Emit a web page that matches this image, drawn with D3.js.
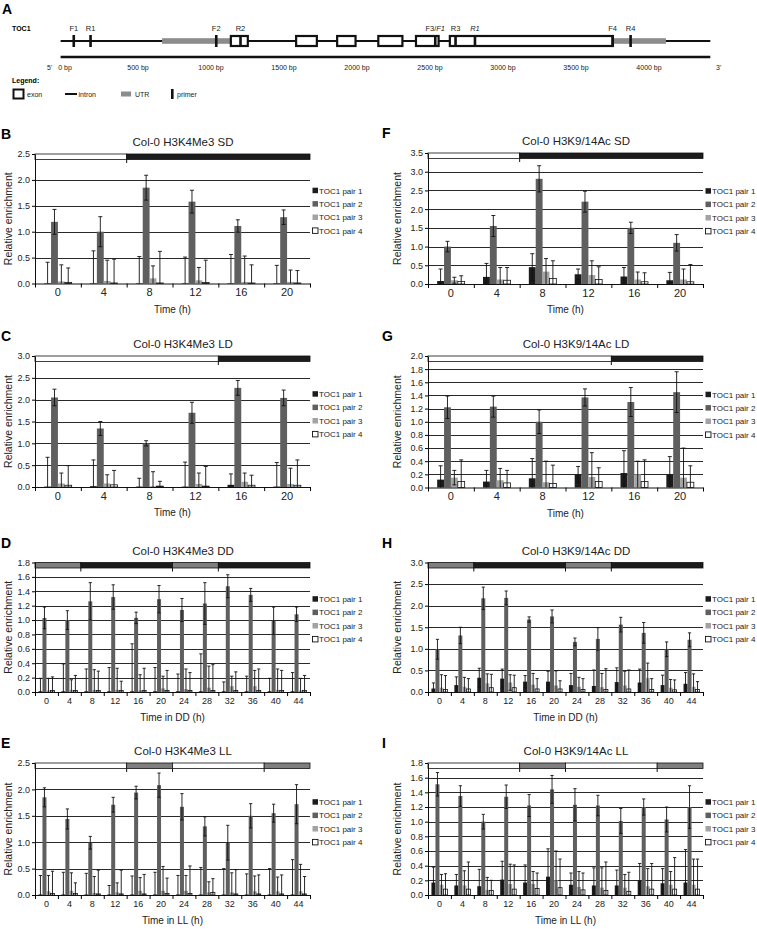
<!DOCTYPE html>
<html>
<head>
<meta charset="utf-8">
<script src="https://cdn.jsdelivr.net/npm/d3@7"></script>
<style>
  body { margin: 0; background: #fff; }
  svg { display: block; font-family: "Liberation Sans", Arial, sans-serif; }
</style>
</head>
<body>
<svg id="fig" width="757" height="929"></svg>
<script>
// ---------- panel A: gene model (positions in bp) ----------
const bpTicks = [0, 500, 1000, 1500, 2000, 2500, 3000, 3500, 4000];
const geneExtent = [-30, 4420];
const utrRegions = [[665, 1136], [3751, 4116]];
const exonRegions = [[1136, 1252], [1583, 1725], [1864, 1990], [2146, 2311], [2404, 2559], [2636, 3751]];
const primerPos = [60, 175, 1036, 1202, 2536, 2675, 2808, 3751, 3874];
const primerLabels = [
  [["F1", false]], [["R1", false]], [["F2", false]], [["R2", false]],
  [["F3/", false], ["F1", true]], [["R3", false]], [["R1", true]], [["F4", false]], [["R4", false]]
];

// ---------- bar chart data ----------
const times6 = [0, 4, 8, 12, 16, 20];
const times12 = [0, 4, 8, 12, 16, 20, 24, 28, 32, 36, 40, 44];
const pairNames = ["TOC1 pair 1", "TOC1 pair 2", "TOC1 pair 3", "TOC1 pair 4"];

// light regimes: [start h, end h, kind]
const regimeSD = [[0, 8, "light"], [8, 24, "dark"]];
const regimeLD = [[0, 16, "light"], [16, 24, "dark"]];
const regimeDD = [[0, 8, "subj"], [8, 24, "dark"], [24, 32, "subj"], [32, 48, "dark"]];
const regimeLL = [[0, 16, "light"], [16, 24, "subj"], [24, 40, "light"], [40, 48, "subj"]];

// B: H3K4Me3 SD
const k4SDValues = [
  [0.01, 0.01, 0.01, 0.01, 0.01, 0.01],
  [1.19, 1.00, 1.85, 1.58, 1.11, 1.28],
  [0.04, 0.05, 0.10, 0.06, 0.03, 0.03],
  [0.02, 0.01, 0.01, 0.02, 0.01, 0.01]
];
const k4SDErrors = [
  [0.40, 0.62, 0.51, 0.50, 0.55, 0.34],
  [0.24, 0.29, 0.24, 0.22, 0.12, 0.14],
  [0.32, 0.40, 0.24, 0.25, 0.50, 0.23],
  [0.28, 0.46, 0.61, 0.43, 0.35, 0.24]
];
// C: H3K4Me3 LD
const k4LDValues = [
  [0.01, 0.02, 0.01, 0.01, 0.05, 0.01],
  [2.05, 1.34, 1.00, 1.70, 2.27, 2.04],
  [0.08, 0.08, 0.02, 0.07, 0.12, 0.07],
  [0.04, 0.05, 0.02, 0.02, 0.04, 0.04]
];
const k4LDErrors = [
  [0.67, 0.60, 0.19, 0.56, 0.25, 0.55],
  [0.19, 0.16, 0.06, 0.24, 0.17, 0.18],
  [0.24, 0.20, 0.33, 0.25, 0.20, 0.36],
  [0.45, 0.33, 0.11, 0.45, 0.23, 0.58]
];
// D: H3K4Me3 DD
const k4DDValues = [
  [0.01, 0.01, 0.01, 0.01, 0.01, 0.01, 0.01, 0.01, 0.01, 0.01, 0.01, 0.01],
  [1.03, 1.00, 1.26, 1.32, 1.03, 1.29, 1.14, 1.23, 1.47, 1.35, 0.99, 1.08],
  [0.02, 0.03, 0.03, 0.03, 0.02, 0.05, 0.04, 0.06, 0.08, 0.08, 0.03, 0.02],
  [0.02, 0.02, 0.02, 0.02, 0.02, 0.02, 0.02, 0.02, 0.02, 0.02, 0.02, 0.02]
];
const k4DDErrors = [
  [0.18, 0.38, 0.31, 0.33, 0.66, 0.33, 0.24, 0.52, 0.13, 0.21, 0.18, 0.26],
  [0.15, 0.13, 0.26, 0.17, 0.08, 0.19, 0.16, 0.29, 0.16, 0.09, 0.19, 0.10],
  [0.17, 0.14, 0.28, 0.30, 0.22, 0.17, 0.28, 0.30, 0.14, 0.22, 0.29, 0.17],
  [0.19, 0.21, 0.27, 0.13, 0.31, 0.28, 0.25, 0.36, 0.26, 0.30, 0.28, 0.21]
];
// E: H3K4Me3 LL
const k4LLValues = [
  [0.01, 0.01, 0.01, 0.01, 0.01, 0.01, 0.01, 0.01, 0.01, 0.01, 0.01, 0.01],
  [1.85, 1.44, 0.99, 1.71, 1.94, 2.08, 1.67, 1.30, 0.99, 1.50, 1.55, 1.72],
  [0.07, 0.08, 0.04, 0.05, 0.08, 0.08, 0.08, 0.05, 0.05, 0.07, 0.07, 0.07],
  [0.03, 0.03, 0.02, 0.02, 0.02, 0.03, 0.03, 0.05, 0.02, 0.02, 0.02, 0.02]
];
const k4LLErrors = [
  [0.36, 0.42, 0.40, 0.17, 0.35, 0.42, 0.36, 0.51, 0.49, 0.39, 0.49, 0.66],
  [0.18, 0.19, 0.12, 0.14, 0.12, 0.23, 0.25, 0.18, 0.33, 0.23, 0.17, 0.37],
  [0.30, 0.34, 0.31, 0.18, 0.25, 0.46, 0.29, 0.20, 0.37, 0.29, 0.27, 0.51],
  [0.42, 0.20, 0.45, 0.45, 0.37, 0.29, 0.52, 0.26, 0.46, 0.36, 0.36, 0.33]
];
// F: H3K9/14Ac SD
const acSDValues = [
  [0.08, 0.19, 0.45, 0.26, 0.20, 0.10],
  [1.00, 1.55, 2.81, 2.20, 1.50, 1.10],
  [0.10, 0.12, 0.33, 0.24, 0.12, 0.12],
  [0.07, 0.10, 0.15, 0.12, 0.06, 0.06]
];
const acSDErrors = [
  [0.32, 0.36, 0.36, 0.14, 0.24, 0.21],
  [0.14, 0.28, 0.35, 0.28, 0.15, 0.22],
  [0.08, 0.32, 0.35, 0.38, 0.20, 0.28],
  [0.15, 0.34, 0.47, 0.34, 0.24, 0.46]
];
// G: H3K9/14Ac LD
const acLDValues = [
  [0.12, 0.09, 0.14, 0.20, 0.22, 0.20],
  [1.22, 1.23, 1.00, 1.37, 1.30, 1.45],
  [0.15, 0.11, 0.08, 0.16, 0.20, 0.15],
  [0.09, 0.07, 0.06, 0.09, 0.09, 0.08]
];
const acLDErrors = [
  [0.21, 0.17, 0.30, 0.12, 0.34, 0.27],
  [0.17, 0.16, 0.18, 0.13, 0.22, 0.31],
  [0.11, 0.18, 0.32, 0.37, 0.20, 0.45],
  [0.33, 0.19, 0.28, 0.21, 0.33, 0.25]
];
// H: H3K9/14Ac DD
const acDDValues = [
  [0.08, 0.16, 0.33, 0.31, 0.24, 0.24, 0.16, 0.14, 0.23, 0.22, 0.16, 0.19],
  [0.99, 1.31, 2.17, 2.18, 1.68, 1.75, 1.16, 1.23, 1.56, 1.37, 0.99, 1.21],
  [0.10, 0.12, 0.20, 0.22, 0.17, 0.15, 0.12, 0.11, 0.15, 0.32, 0.10, 0.12],
  [0.06, 0.07, 0.10, 0.10, 0.07, 0.07, 0.06, 0.06, 0.07, 0.06, 0.05, 0.06]
];
const acDDErrors = [
  [0.13, 0.19, 0.22, 0.22, 0.14, 0.24, 0.27, 0.37, 0.33, 0.31, 0.23, 0.26],
  [0.23, 0.19, 0.26, 0.16, 0.06, 0.15, 0.09, 0.26, 0.17, 0.24, 0.17, 0.16],
  [0.30, 0.22, 0.22, 0.18, 0.26, 0.34, 0.22, 0.32, 0.33, 0.35, 0.19, 0.30],
  [0.32, 0.24, 0.31, 0.29, 0.24, 0.19, 0.25, 0.48, 0.44, 0.25, 0.23, 0.18]
];
// I: H3K9/14Ac LL
const acLLValues = [
  [0.17, 0.13, 0.12, 0.21, 0.17, 0.25, 0.14, 0.13, 0.13, 0.20, 0.16, 0.17],
  [1.51, 1.35, 1.00, 1.34, 1.22, 1.44, 1.23, 1.22, 1.01, 1.20, 1.03, 1.20],
  [0.14, 0.13, 0.07, 0.15, 0.15, 0.20, 0.11, 0.10, 0.10, 0.12, 0.14, 0.14],
  [0.08, 0.08, 0.06, 0.08, 0.09, 0.10, 0.07, 0.06, 0.05, 0.08, 0.08, 0.08]
];
const acLLErrors = [
  [0.21, 0.15, 0.23, 0.25, 0.24, 0.38, 0.16, 0.24, 0.21, 0.23, 0.20, 0.45],
  [0.16, 0.14, 0.10, 0.16, 0.15, 0.19, 0.22, 0.14, 0.17, 0.11, 0.17, 0.29],
  [0.14, 0.20, 0.17, 0.27, 0.17, 0.40, 0.21, 0.27, 0.18, 0.24, 0.18, 0.35],
  [0.21, 0.37, 0.14, 0.33, 0.21, 0.39, 0.23, 0.39, 0.26, 0.35, 0.43, 0.41]
];

const pairColors = ["#1c1c1c", "#5f5f5f", "#a3a3a3", "#ffffff"];
const regimeColors = { light: "#ffffff", dark: "#1c1c1c", subj: "#7f7f7f" };

const svg = d3.select("#fig");

// ---------- panel A ----------
function drawGene() {
  const g = svg.append("g");
  const x = d3.scaleLinear().domain([0, 4000]).range([65, 649]);
  const yLine = 41;

  g.append("text").attr("x", 2).attr("y", 14).attr("font-size", 14).attr("font-weight", "bold").text("A");
  g.append("text").attr("x", 12).attr("y", 31).attr("font-size", 7).attr("font-weight", "bold").text("TOC1");

  // intron backbone
  g.append("line").attr("x1", x(geneExtent[0])).attr("x2", x(geneExtent[1]))
    .attr("y1", yLine).attr("y2", yLine).attr("stroke", "#111").attr("stroke-width", 2);

  g.selectAll(".utr").data(utrRegions).join("rect")
    .attr("x", d => x(d[0])).attr("width", d => x(d[1]) - x(d[0]))
    .attr("y", yLine - 2.8).attr("height", 5.6).attr("fill", "#8c8c8c");

  g.selectAll(".exon").data(exonRegions).join("rect")
    .attr("x", d => x(d[0])).attr("width", d => x(d[1]) - x(d[0]))
    .attr("y", yLine - 5).attr("height", 10)
    .attr("fill", "#fff").attr("stroke", "#111").attr("stroke-width", 2.2);

  g.selectAll(".primer").data(primerPos).join("rect")
    .attr("x", d => x(d) - 1.3).attr("width", 2.6)
    .attr("y", yLine - 6).attr("height", 12).attr("fill", "#111");

  const lab = g.selectAll(".plab").data(primerPos).join("text")
    .attr("x", d => x(d)).attr("y", 31).attr("font-size", 7.5)
    .attr("text-anchor", "middle").attr("fill", "#222");
  lab.each(function (d, i) {
    d3.select(this).selectAll("tspan").data(primerLabels[i]).join("tspan")
      .attr("font-style", p => p[1] ? "italic" : "normal").text(p => p[0]);
  });

  // scale bar
  g.append("line").attr("x1", x(geneExtent[0])).attr("x2", x(geneExtent[1]))
    .attr("y1", 57).attr("y2", 57).attr("stroke", "#111").attr("stroke-width", 2.6);
  g.selectAll(".bp").data(bpTicks).join("text")
    .attr("x", d => x(d)).attr("y", 70).attr("font-size", 7)
    .attr("text-anchor", "middle").attr("fill", "#222").text(d => d + " bp");
  g.append("text").attr("x", 47).attr("y", 70).attr("font-size", 7).attr("fill", "#222").text("5'");
  g.append("text").attr("x", 716).attr("y", 70).attr("font-size", 7).attr("fill", "#222").text("3'");

  // legend
  g.append("text").attr("x", 12).attr("y", 83).attr("font-size", 7).attr("font-weight", "bold").text("Legend:");
  g.append("rect").attr("x", 13.5).attr("y", 89.5).attr("width", 10).attr("height", 9)
    .attr("fill", "#fff").attr("stroke", "#111").attr("stroke-width", 2);
  g.append("text").attr("x", 27).attr("y", 97).attr("font-size", 7).attr("fill", "#222").text("exon");
  g.append("line").attr("x1", 65).attr("x2", 77).attr("y1", 94).attr("y2", 94)
    .attr("stroke", "#111").attr("stroke-width", 2);
  g.append("text").attr("x", 78.5).attr("y", 97).attr("font-size", 7).attr("fill", "#222").text("intron");
  g.append("rect").attr("x", 121).attr("y", 91.5).attr("width", 10).attr("height", 5).attr("fill", "#8c8c8c");
  g.append("text").attr("x", 135).attr("y", 97).attr("font-size", 7).attr("fill", "#222").text("UTR");
  g.append("rect").attr("x", 171).attr("y", 89).attr("width", 2.6).attr("height", 10).attr("fill", "#111");
  g.append("text").attr("x", 177).attr("y", 97).attr("font-size", 7).attr("fill", "#222").text("primer");
}

// ---------- bar chart panels ----------
function drawChart(c) {
  const g = svg.append("g");
  const n = c.times.length;
  const x = d3.scaleBand().domain(c.times).range([c.left, c.right]);
  const bw = x.bandwidth();
  const xi = d3.scaleBand().domain([0, 1, 2, 3]).range([bw * c.pad, bw * (1 - c.pad)]);
  const hrs = d3.scaleLinear().domain([0, n * 4]).range([c.left, c.right]);
  const y = d3.scaleLinear().domain([0, c.yMax]).range([c.zero, c.top]);
  const yTicks = d3.range(0, Math.round(c.yMax / c.yStep) + 1).map(i => +(i * c.yStep).toFixed(2));

  // gridlines
  g.append("g").selectAll("line").data(yTicks.slice(1)).join("line")
    .attr("x1", c.left).attr("x2", c.right)
    .attr("y1", d => Math.round(y(d)) + 0.5).attr("y2", d => Math.round(y(d)) + 0.5)
    .attr("stroke", "#2a2a2a").attr("stroke-width", 1);

  // bars
  const flat = [];
  c.values.forEach((series, s) => series.forEach((v, i) => {
    flat.push({ s, t: c.times[i], v, e: c.errors[s][i] });
  }));
  g.append("g").selectAll("rect").data(flat).join("rect")
    .attr("x", d => x(d.t) + xi(d.s)).attr("width", xi.bandwidth())
    .attr("y", d => y(d.v)).attr("height", d => y(0) - y(d.v))
    .attr("fill", d => pairColors[d.s])
    .attr("stroke", d => d.s === 3 ? "#111" : "none").attr("stroke-width", 0.8);

  // error bars
  const cap = c.cap;
  const eb = g.append("g").attr("stroke", "#111").attr("stroke-width", 0.9);
  flat.forEach(d => {
    const cx = x(d.t) + xi(d.s) + xi.bandwidth() / 2;
    const lo = Math.max(0, d.v - d.e);
    eb.append("line").attr("x1", cx).attr("x2", cx).attr("y1", y(lo)).attr("y2", y(d.v + d.e));
    eb.append("line").attr("x1", cx - cap).attr("x2", cx + cap).attr("y1", y(d.v + d.e)).attr("y2", y(d.v + d.e));
    if (d.v - d.e > 0) {
      eb.append("line").attr("x1", cx - cap).attr("x2", cx + cap).attr("y1", y(lo)).attr("y2", y(lo));
    }
  });

  // light / dark bar
  const yb = y(c.yMax);
  g.append("g").selectAll("rect").data(c.regime).join("rect")
    .attr("x", d => hrs(d[0])).attr("width", d => hrs(d[1]) - hrs(d[0]))
    .attr("y", yb).attr("height", 5.5)
    .attr("fill", d => regimeColors[d[2]]).attr("stroke", "#111").attr("stroke-width", 0.8);
  g.append("g").selectAll("line").data(c.regime.slice(1)).join("line")
    .attr("x1", d => hrs(d[0])).attr("x2", d => hrs(d[0]))
    .attr("y1", yb + 5.5).attr("y2", yb + 9).attr("stroke", "#111").attr("stroke-width", 1);

  // y axis
  const ya = g.append("g").attr("transform", `translate(${c.left},0)`)
    .call(d3.axisLeft(y).tickValues(yTicks).tickFormat(d3.format(".1f")).tickSize(3).tickSizeOuter(0).tickPadding(2));
  ya.select(".domain").attr("stroke", "#111");
  ya.selectAll("text").attr("font-size", 9).attr("font-family", null).attr("fill", "#222");

  // x axis: boundary ticks and centred labels
  const xa = g.append("g").attr("transform", `translate(0,${c.zero})`)
    .call(d3.axisBottom(hrs).tickValues(d3.range(0, n * 4 + 1, 4)).tickFormat("").tickSize(4).tickSizeOuter(0));
  xa.select(".domain").attr("stroke", "#111");
  const xl = g.append("g").attr("transform", `translate(0,${c.zero})`)
    .call(d3.axisBottom(x).tickSize(0).tickPadding(c.labelPad));
  xl.select(".domain").remove();
  xl.selectAll("text").attr("font-size", c.labelSize).attr("font-family", null).attr("fill", "#222");

  // titles
  g.append("text").attr("x", c.titleX).attr("y", c.top - 8).attr("text-anchor", "middle")
    .attr("font-size", 11.5).attr("fill", "#222").text(c.title);
  g.append("text").attr("x", (c.left + c.right) / 2).attr("y", c.zero + 29).attr("text-anchor", "middle")
    .attr("font-size", 10).attr("fill", "#222").text(c.xTitle);
  g.append("text").attr("transform", `translate(${c.yTitleX},${(c.top + c.zero) / 2}) rotate(-90)`)
    .attr("text-anchor", "middle").attr("font-size", 10.5).attr("fill", "#222").text("Relative enrichment");
  g.append("text").attr("x", c.letterX).attr("y", c.top - 15).attr("font-size", 14)
    .attr("font-weight", "bold").text(c.letter);

  // legend
  const lg = g.append("g").attr("transform", `translate(${c.right + 2},${c.zero - 93})`);
  pairNames.forEach((name, k) => {
    lg.append("rect").attr("x", 0.5).attr("y", k * 13.4 - 2.8).attr("width", 5.5).attr("height", 5.5)
      .attr("fill", pairColors[k]).attr("stroke", "#111").attr("stroke-width", k === 3 ? 0.9 : 0);
    lg.append("text").attr("x", 7).attr("y", k * 13.4 + 3).attr("font-size", 8)
      .attr("fill", "#222").text(name);
  });
}

drawGene();

const leftCol = { left: 35, right: 310, titleX: 183, yTitleX: 12, letterX: 1 };
const rightCol = { left: 428, right: 703, titleX: 576, yTitleX: 401, letterX: 382 };
const six = { times: times6, pad: 0.2, cap: 2, labelSize: 11, labelPad: 5 };
const twelve = { times: times12, pad: 0.15, cap: 1.6, labelSize: 9, labelPad: 6 };

drawChart({ ...leftCol, ...six, top: 154, zero: 283.5, yMax: 2.5, yStep: 0.5, regime: regimeSD,
  values: k4SDValues, errors: k4SDErrors, title: "Col-0 H3K4Me3 SD", xTitle: "Time (h)", letter: "B" });
drawChart({ ...leftCol, ...six, top: 356, zero: 487, yMax: 3.0, yStep: 0.5, regime: regimeLD,
  values: k4LDValues, errors: k4LDErrors, title: "Col-0 H3K4Me3 LD", xTitle: "Time (h)", letter: "C" });
drawChart({ ...leftCol, ...twelve, top: 562.5, zero: 692, yMax: 1.8, yStep: 0.2, regime: regimeDD,
  values: k4DDValues, errors: k4DDErrors, title: "Col-0 H3K4Me3 DD", xTitle: "Time in DD (h)", letter: "D" });
drawChart({ ...leftCol, ...twelve, top: 763, zero: 895, yMax: 2.5, yStep: 0.5, regime: regimeLL,
  values: k4LLValues, errors: k4LLErrors, title: "Col-0 H3K4Me3 LL", xTitle: "Time in LL (h)", letter: "E" });

drawChart({ ...rightCol, ...six, top: 153, zero: 284, yMax: 3.5, yStep: 0.5, regime: regimeSD,
  values: acSDValues, errors: acSDErrors, title: "Col-0 H3K9/14Ac SD", xTitle: "Time (h)", letter: "F" });
drawChart({ ...rightCol, ...six, top: 356, zero: 487.5, yMax: 2.0, yStep: 0.2, regime: regimeLD,
  values: acLDValues, errors: acLDErrors, title: "Col-0 H3K9/14Ac LD", xTitle: "Time (h)", letter: "G" });
drawChart({ ...rightCol, ...twelve, top: 562.5, zero: 692, yMax: 3.0, yStep: 0.5, regime: regimeDD,
  values: acDDValues, errors: acDDErrors, title: "Col-0 H3K9/14Ac DD", xTitle: "Time in DD (h)", letter: "H" });
drawChart({ ...rightCol, ...twelve, top: 763, zero: 895, yMax: 1.8, yStep: 0.2, regime: regimeLL,
  values: acLLValues, errors: acLLErrors, title: "Col-0 H3K9/14Ac LL", xTitle: "Time in LL (h)", letter: "I" });
</script>
</body>
</html>
